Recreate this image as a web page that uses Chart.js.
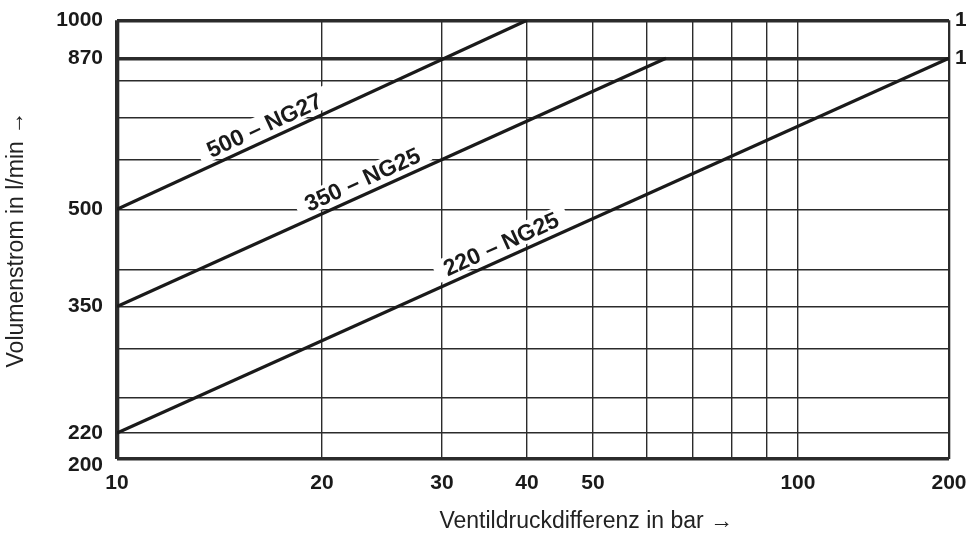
<!DOCTYPE html>
<html><head><meta charset="utf-8">
<script src="https://cdn.jsdelivr.net/npm/chart.js@4.4.1/dist/chart.umd.min.js"></script>
<style>html,body{margin:0;padding:0;background:#fff;overflow:hidden}#wrap{width:966px;height:534px}</style>
</head><body><div id="wrap"><canvas id="c" width="966" height="534"></canvas></div>
<script>
// ---- data ----
const seriesNames = ['500 – NG27', '350 – NG25', '220 – NG25'];
const pressure500 = [10, 40];
const flow500 = [500, 1000];
const pressure350 = [10, 64];
const flow350 = [350, 870];
const pressure220 = [10, 200];
const flow220 = [220, 870];
const labelAtPressure = [16.8, 23.4, 37.4];

const pressureGrid = [10, 20, 30, 40, 50, 60, 70, 80, 90, 100, 200];
const pressureTickLabels = [10, 20, 30, 40, 50, 100, 200];
const flowGrid = [200, 220, 250, 300, 350, 400, 500, 600, 700, 800, 870, 1000];
const flowTickLabels = [200, 220, 350, 500, 870, 1000];
const flowRightTicks = [870, 1000];
const flowRightLabels = ['1', '1'];
const heavyFlow = [200, 870, 1000];

const xTitle = 'Ventildruckdifferenz in bar →';
const yTitle = 'Volumenstrom in l/min →';

// ---- a log scale whose last section (above warpAt) is drawn compressed, as in the original sheet ----
class WarpedLogScale extends Chart.LogarithmicScale {
  _t(v) {
    const l = Math.log10(v), b = Math.log10(this.options.warpAt || 100);
    const f = this.options.warpFactor || 1;
    return l <= b ? l : b + (l - b) * f;
  }
  getPixelForValue(value) {
    if (value === undefined || value === 0) value = this.min;
    if (value === null || isNaN(value)) return NaN;
    const t0 = this._t(this.min), t1 = this._t(this.max);
    return this.getPixelForDecimal((this._t(value) - t0) / (t1 - t0));
  }
  getValueForPixel(pixel) {
    const d = this.getDecimalForPixel(pixel);
    const t0 = this._t(this.min), t1 = this._t(this.max);
    const t = t0 + d * (t1 - t0);
    const b = Math.log10(this.options.warpAt || 100), f = this.options.warpFactor || 1;
    return Math.pow(10, t <= b ? t : b + (t - b) / f);
  }
}
WarpedLogScale.id = 'warpedLog';
WarpedLogScale.defaults = Chart.LogarithmicScale.defaults;
Chart.register(WarpedLogScale);

const toPoints = (xs, ys) => xs.map((v, i) => ({x: v, y: ys[i]}));

const tickFont = {family: '"Liberation Sans", Arial, sans-serif', size: 21, weight: 'bold'};
const ink = '#1a1a1a';
const gridInk = '#2b2b2b';

const lineLabels = {
  id: 'lineLabels',
  afterDatasetsDraw(chart) {
    const {ctx, scales: {x, y}} = chart;
    ctx.save();
    ctx.font = 'bold 23px "Liberation Sans", Arial, sans-serif';
    chart.data.datasets.forEach((ds, i) => {
      const a = ds.data[0], b = ds.data[ds.data.length - 1];
      const x0 = x.getPixelForValue(a.x), y0 = y.getPixelForValue(a.y);
      const x1 = x.getPixelForValue(b.x), y1 = y.getPixelForValue(b.y);
      const ang = Math.atan2(y1 - y0, x1 - x0);
      const px = x.getPixelForValue(labelAtPressure[i]);
      const py = y0 + (px - x0) / (x1 - x0) * (y1 - y0);
      const w = ctx.measureText(ds.label).width;
      ctx.save();
      ctx.translate(px, py);
      ctx.rotate(ang);
      ctx.fillStyle = '#fff';
      ctx.fillRect(-w / 2 - 10, -26, w + 20, 22);
      ctx.fillStyle = ink;
      ctx.textAlign = 'center';
      ctx.textBaseline = 'alphabetic';
      ctx.fillText(ds.label, 0, -7);
      ctx.restore();
    });
    ctx.restore();
  },
  afterDraw(chart) {
    const {ctx, chartArea} = chart;
    ctx.save();
    ctx.font = '23px "Liberation Sans", Arial, sans-serif';
    ctx.fillStyle = '#222';
    ctx.textAlign = 'center';
    ctx.textBaseline = 'alphabetic';
    ctx.fillText(xTitle, chartArea.left + (chartArea.right - chartArea.left) * 0.564, chartArea.bottom + 69);
    ctx.restore();
  }
};

new Chart(document.getElementById('c'), {
  type: 'line',
  data: {
    datasets: [
      {label: seriesNames[0], data: toPoints(pressure500, flow500)},
      {label: seriesNames[1], data: toPoints(pressure350, flow350)},
      {label: seriesNames[2], data: toPoints(pressure220, flow220)}
    ].map(d => Object.assign(d, {borderColor: ink, borderWidth: 3.3, pointRadius: 0, tension: 0, fill: false}))
  },
  options: {
    responsive: false,
    animation: false,
    events: [],
    layout: {padding: {top: 20, left: 0, right: 0, bottom: 0}},
    plugins: {legend: {display: false}, tooltip: {enabled: false}},
    scales: {
      x: {
        type: 'warpedLog', min: 10, max: 200, warpAt: 100, warpFactor: 0.737,
        afterBuildTicks: s => { s.ticks = pressureGrid.map(v => ({value: v})); },
        afterFit: s => { s.height = 75; s.paddingLeft = 0; s.paddingRight = 0; },
        border: {display: false},
        grid: {
          drawTicks: false, color: gridInk,
          lineWidth: c => c.tick && c.tick.value === 10 ? 4.3 : (c.tick && c.tick.value === 200 ? 2.3 : 1.4)
        },
        ticks: {
          autoSkip: false, maxRotation: 0, padding: 12, color: ink, font: tickFont,
          callback: v => pressureTickLabels.includes(v) ? String(v) : ''
        }
      },
      y: {
        type: 'logarithmic', min: 200, max: 1000, position: 'left',
        afterBuildTicks: s => { s.ticks = flowGrid.map(v => ({value: v})); },
        afterFit: s => { s.width = 117; },
        border: {display: false},
        grid: {
          drawTicks: false, color: gridInk,
          lineWidth: c => c.tick && heavyFlow.includes(c.tick.value) ? 3.4 : 1.4
        },
        title: {display: true, text: yTitle, color: '#222', font: {family: '"Liberation Sans", Arial, sans-serif', size: 23}, padding: {top: 3, bottom: 0}},
        ticks: {
          autoSkip: false, padding: 14, color: ink, font: Object.assign({}, tickFont, {lineHeight: 0.6}),
          callback: v => v === 200 ? ['', '200'] : (flowTickLabels.includes(v) ? String(v) : '')
        }
      },
      y2: {
        type: 'logarithmic', min: 200, max: 1000, position: 'right',
        afterBuildTicks: s => { s.ticks = flowRightTicks.map(v => ({value: v})); },
        afterFit: s => { s.width = 17; },
        border: {display: false},
        grid: {display: false, drawTicks: false},
        ticks: {autoSkip: false, padding: 6, color: ink, font: tickFont, callback: (v, i) => flowRightLabels[i]}
      }
    }
  },
  plugins: [lineLabels]
});
</script>
</body></html>
